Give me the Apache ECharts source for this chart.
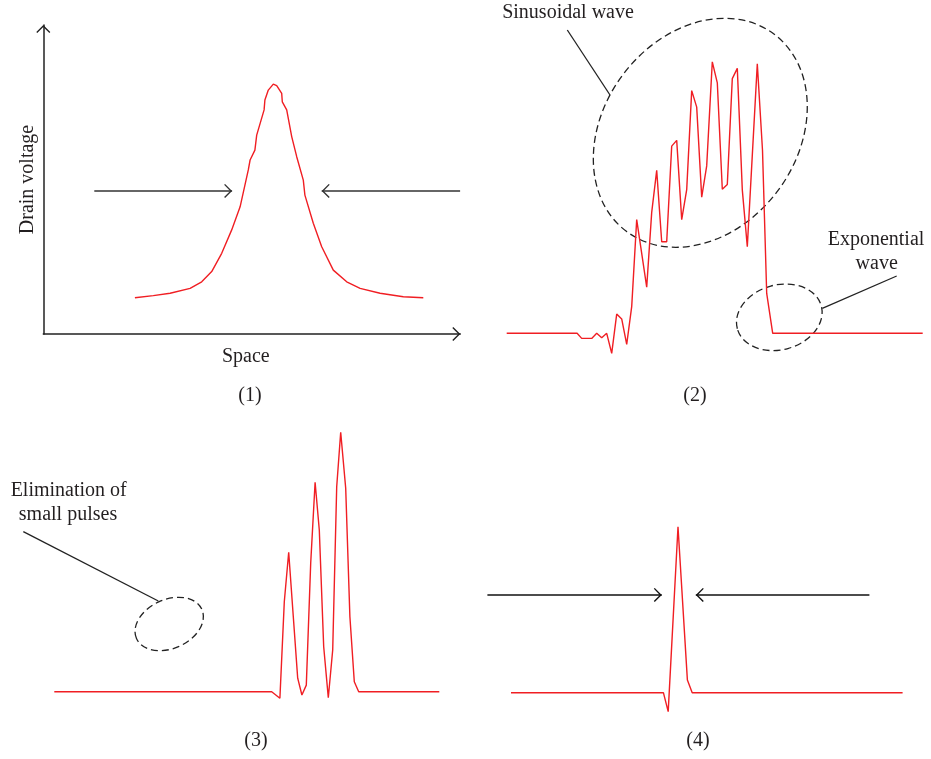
<!DOCTYPE html>
<html><head><meta charset="utf-8">
<script src="https://cdn.jsdelivr.net/npm/echarts@6/dist/echarts.min.js"></script>
<style>html,body{margin:0;padding:0;background:#fff}#c{width:931px;height:759px}</style>
</head><body><div id="c"></div>
<script>
// ---- Panel (1): drain voltage profile over space ----
const p1X = [22.9,27.5,31.7,36.7,39.6,42.1,44.6,47.1,49.2,51.25,51.7,52.9,53.35,55.2,55.4,56.25,57.5,58.35,59.6,59.75,60.85,62.1,63.35,65,65.4,67.5,69.6,72.5,75.85,79.2,84.2,90,95];
const p1Y = [12.1,12.8,13.6,15.2,17.4,20.8,26.9,34.7,42.4,54.7,58,61.3,66.3,74.7,78,81.3,83.3,82.8,80.2,77.4,74.7,65.8,59.1,51.3,46.3,36.9,29.1,21.3,17.4,15.2,13.6,12.4,12.1];
const p1ArrowLeft = [12.75, 47.2];
const p1ArrowRight = [104.2, 69.6];
const p1ArrowLevel = 47.7;

// ---- Panel (2): sinusoidal + exponential wave ----
const p2X = [0,17.6,18.75,21.25,22.5,23.75,25,26.25,27.5,28.75,30,31.25,32.5,35,36.25,37.5,38.75,40,41.25,42.5,43.75,45,46.25,47.5,48.75,50,51.4,52.65,53.9,55.15,56.4,57.65,58.9,60.15,62.65,63.95,65,66.5,104];
const p2Y = [0,0,-1.7,-1.7,0,-1.5,0,-6.7,6.4,4.8,-3.7,8.9,37.9,15.4,40.3,54.3,30.5,30.5,62.4,64.3,37.9,47.9,80.9,75.4,45.4,55.8,90.5,83.5,48,49.6,84.9,88.3,47.8,28.9,89.8,61,13.3,0,0];

// ---- Panel (3): small pulses eliminated ----
const p3X = [0,54.35,56.4,57.5,58.6,59.75,60.85,61.9,63,64.1,65.2,66.25,67.35,68.5,69.6,70.6,71.6,72.85,73.9,75,76.1,96.25];
const p3Y = [0,0,-2.2,30,46.5,25,4.5,-1.1,2.2,42.8,69.8,53.9,15,-2,13.9,68.3,86.5,67.8,25,3.3,0,0];

// ---- Panel (4): single narrow pulse ----
const p4X = [10,48.1,49.3,51.75,54.1,55.3,107.9];
const p4Y = [0,0,-6.3,55.3,4.2,0,0];
const p4ArrowLeft = [4.1, 47.7];
const p4ArrowRight = [99.6, 56.2];
const p4ArrowLevel = 32.6;

const panelLabels = ['(1)', '(2)', '(3)', '(4)'];

const RED = '#f01e23';
const INK = '#231f20';
const FONT = '"Liberation Serif", "Times New Roman", serif';
const CHEVRON = 'path://M10,-11.4 M-1.4,0 M21.4,0 M0,10 L10,0 L20,10 L18.6,11.4 L10,2.8 L1.4,11.4 Z';

function zip(xs, ys) { return xs.map((x, i) => [x, ys[i]]); }
function redLine(idx, xs, ys, extra) {
  return Object.assign({
    type: 'line', xAxisIndex: idx, yAxisIndex: idx,
    data: zip(xs, ys), symbol: 'none', showSymbol: false,
    lineStyle: { color: RED, width: 1.4 }, itemStyle: { color: RED },
    animation: false, silent: true, clip: false
  }, extra || {});
}
function arrows(left, right, level, color) {
  return {
    silent: true, animation: false,
    symbol: ['none', CHEVRON], symbolSize: 16,
    label: { show: false },
    lineStyle: { color: color, width: 1.5, type: 'solid' },
    emphasis: { disabled: true },
    data: [
      [{ coord: [left[0], level] }, { coord: [left[1], level] }],
      [{ coord: [right[0], level] }, { coord: [right[1], level] }]
    ]
  };
}
function hiddenAxis(idx, min, max) {
  return { type: 'value', gridIndex: idx, min: min, max: max, show: false };
}

const chart = echarts.init(document.getElementById('c'), null, { renderer: 'canvas' });
const dash = { fill: 'none', stroke: '#222', lineWidth: 1.3, lineDash: [7, 4] };
const solid = { stroke: '#222', lineWidth: 1.3 };
function txt(x, y, s) {
  return { type: 'text', x: x, y: y, silent: true,
    style: { text: s, font: '20px ' + FONT, fill: INK, align: 'center', verticalAlign: 'middle', textAlign: 'center', textVerticalAlign: 'middle' } };
}
const deg = Math.PI / 180;

chart.setOption({
  animation: false,
  backgroundColor: '#fff',
  grid: [
    { left: 43.3, top: 25, width: 417, height: 309 },
    { left: 506.7, top: 33.3, width: 416, height: 330 },
    { left: 54.3, top: 391.7, width: 400, height: 330 },
    { left: 471, top: 392.7, width: 440, height: 330 }
  ],
  xAxis: [
    { type: 'value', gridIndex: 0, min: 0, max: 104.25,
      name: 'Space', nameLocation: 'middle', nameGap: 13,
      nameTextStyle: { fontFamily: FONT, fontSize: 20, color: INK, padding: [0, 12, 0, 0] },
      axisLine: { show: true, onZero: false, symbol: ['none', CHEVRON], symbolSize: [16, 16], lineStyle: { color: '#222', width: 1.5 } },
      axisTick: { show: false }, axisLabel: { show: false }, splitLine: { show: false } },
    hiddenAxis(1, 0, 104), hiddenAxis(2, 0, 100), hiddenAxis(3, 0, 110)
  ],
  yAxis: [
    { type: 'value', gridIndex: 0, min: 0, max: 103,
      name: 'Drain voltage', nameLocation: 'middle', nameGap: 6,
      nameTextStyle: { fontFamily: FONT, fontSize: 20, color: INK },
      axisLine: { show: true, onZero: false, symbol: ['none', CHEVRON], symbolSize: [16, 16], lineStyle: { color: '#222', width: 1.5 } },
      axisTick: { show: false }, axisLabel: { show: false }, splitLine: { show: false } },
    hiddenAxis(1, -10, 100), hiddenAxis(2, -10, 100), hiddenAxis(3, -10, 100)
  ],
  series: [
    redLine(0, p1X, p1Y, { markLine: arrows(p1ArrowLeft, p1ArrowRight, p1ArrowLevel, '#333') }),
    redLine(1, p2X, p2Y),
    redLine(2, p3X, p3Y),
    redLine(3, p4X, p4Y, { markLine: arrows(p4ArrowLeft, p4ArrowRight, p4ArrowLevel, '#111') })
  ],
  graphic: [
    // panel 2 annotations
    { type: 'ellipse', x: 700.3, y: 132.8, rotation: 53.3 * deg, silent: true, shape: { cx: 0, cy: 0, rx: 123.2, ry: 96.8 }, style: dash },
    { type: 'line', silent: true, shape: { x1: 567.3, y1: 30, x2: 610, y2: 95 }, style: solid },
    txt(568, 13, 'Sinusoidal wave'),
    { type: 'ellipse', x: 779.3, y: 317.3, rotation: 15.3 * deg, silent: true, shape: { cx: 0, cy: 0, rx: 43.5, ry: 32.4 }, style: dash },
    { type: 'line', silent: true, shape: { x1: 822.3, y1: 308.3, x2: 896.7, y2: 276 }, style: solid },
    txt(876, 240, 'Exponential'),
    txt(876.7, 263.3, 'wave'),
    // panel 3 annotations
    { type: 'ellipse', x: 169.2, y: 624, rotation: 24 * deg, silent: true, shape: { cx: 0, cy: 0, rx: 35.8, ry: 24.5 }, style: dash },
    { type: 'line', silent: true, shape: { x1: 23.3, y1: 531.7, x2: 158.3, y2: 601 }, style: solid },
    txt(68.7, 491, 'Elimination of'),
    txt(68, 515, 'small pulses'),
    // panel labels
    txt(250, 396, panelLabels[0]),
    txt(695, 396, panelLabels[1]),
    txt(256, 741, panelLabels[2]),
    txt(698, 741, panelLabels[3])
  ]
});
</script>
</body></html>
